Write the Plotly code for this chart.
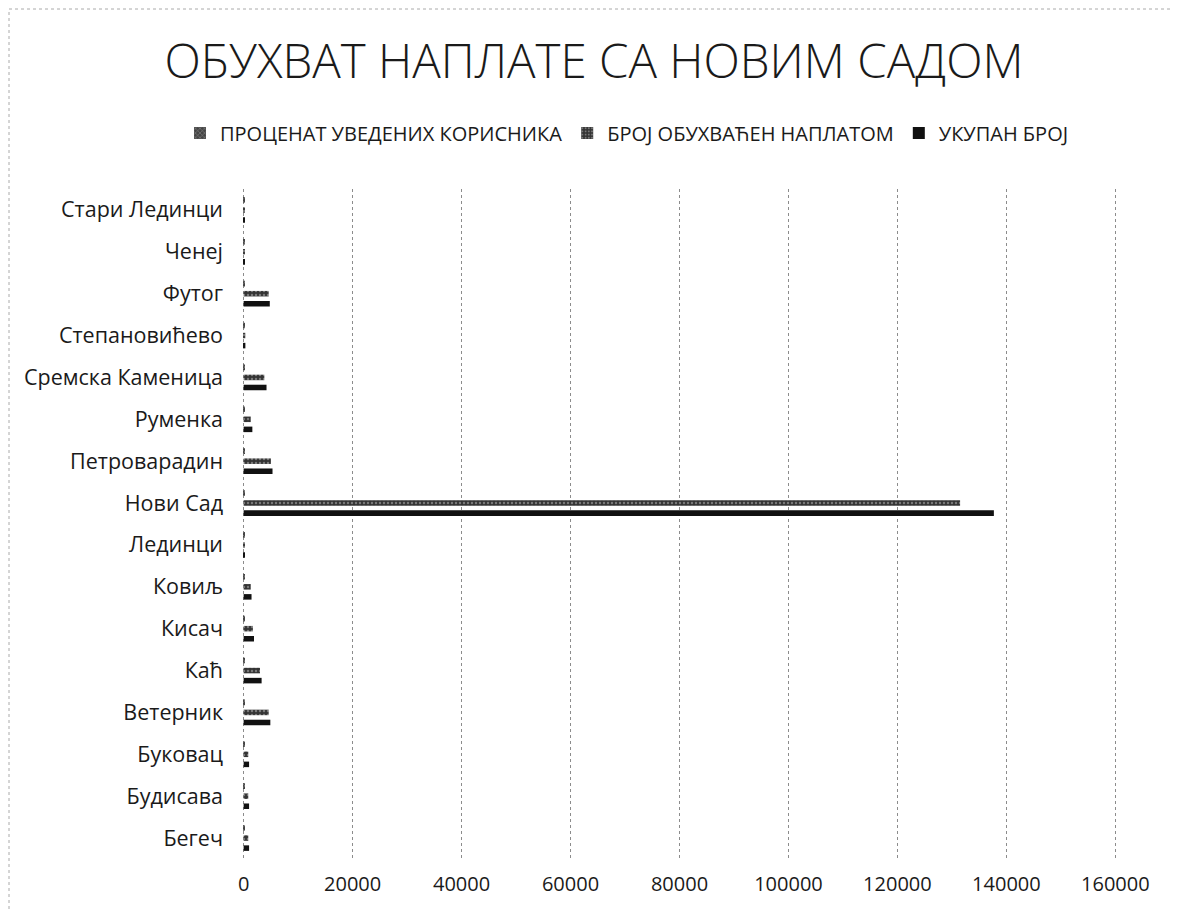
import plotly.graph_objects as go

categories = ["Бегеч", "Будисава", "Буковац", "Ветерник", "Каћ", "Кисач", "Ковиљ",
              "Лединци", "Нови Сад", "Петроварадин", "Руменка", "Сремска Каменица",
              "Степановићево", "Футог", "Ченеј", "Стари Лединци"]
percent_users = [85, 80, 82, 92, 90, 88, 86, 70, 95, 93, 85, 90, 75, 95, 80, 75]
covered = [850, 850, 850, 4600, 3000, 1700, 1300, 100, 131500, 5000, 1300, 3800, 300, 4600, 200, 150]
total = [1000, 1000, 1000, 4900, 3300, 1900, 1450, 120, 137700, 5300, 1600, 4200, 320, 4800, 220, 170]
tick_vals = [0, 20000, 40000, 60000, 80000, 100000, 120000, 140000, 160000]
tick_text = ["0", "20000", "40000", "60000", "80000", "100000", "120000", "140000", "160000"]

FONT = "Open Sans"
L, R, T, B = 234, 71, 181, 61
W, H = 1180, 912
PW = W - L - R
PH = H - T - B


def px(fx):
    return (fx - L) / PW


def py(fy):
    return (H - B - fy) / PH


fig = go.Figure()
fig.add_trace(go.Bar(y=categories, x=total, orientation="h", name="УКУПАН БРОЈ",
                     marker=dict(color="#111111", line=dict(width=0))))
fig.add_trace(go.Bar(y=categories, x=covered, orientation="h", name="БРОЈ ОБУХВАЋЕН НАПЛАТОМ",
                     marker=dict(color="#333333", line=dict(width=0),
                                 pattern=dict(shape=".", fgcolor="#bbbbbb", size=4, solidity=0.3))))
fig.add_trace(go.Bar(y=categories, x=percent_users, orientation="h", name="ПРОЦЕНАТ УВЕДЕНИХ КОРИСНИКА",
                     marker=dict(color="#444444", line=dict(width=0),
                                 pattern=dict(shape="x", fgcolor="#cccccc", size=4, solidity=0.3))))

fig.update_layout(
    width=W, height=H,
    paper_bgcolor="white", plot_bgcolor="white",
    barmode="group", bargap=0.28, bargroupgap=0.45,
    margin=dict(l=L, r=R, t=T, b=B, autoexpand=False),
    font=dict(family=FONT, color="#1a1a1a", size=16),
    title=dict(text="ОБУХВАТ НАПЛАТЕ СА НОВИМ САДОМ", x=(594 - 8) / W, xanchor="center",
               y=0.942, yanchor="middle",
               font=dict(size=47.5, family=FONT, color="#1a1a1a", weight=300)),
    legend=dict(orientation="h", traceorder="reversed",
                x=px(180 - 8), xanchor="left",
                y=py(133 - 8), yanchor="middle",
                font=dict(size=20, family=FONT), itemwidth=30),
    showlegend=True,
)
fig.update_xaxes(range=[-300, 160300], tickvals=tick_vals, ticktext=tick_text,
                 showgrid=True, gridcolor="#8c8c8c", griddash="dot", gridwidth=1,
                 zeroline=False, showline=False, ticks="", tickfont=dict(size=20),
                 ticklabelstandoff=11, automargin=False)
fig.update_yaxes(categoryorder="array", categoryarray=categories, showgrid=False,
                 showline=False, ticks="", ticklabelstandoff=18, tickfont=dict(size=21.5),
                 automargin=False)

fig.add_shape(type="rect", xref="paper", yref="paper",
              x0=px(1), x1=px(1167), y0=py(930), y1=py(1),
              line=dict(color="#aaaaaa", width=1, dash="dot"))

fig.write_html("out.html")
